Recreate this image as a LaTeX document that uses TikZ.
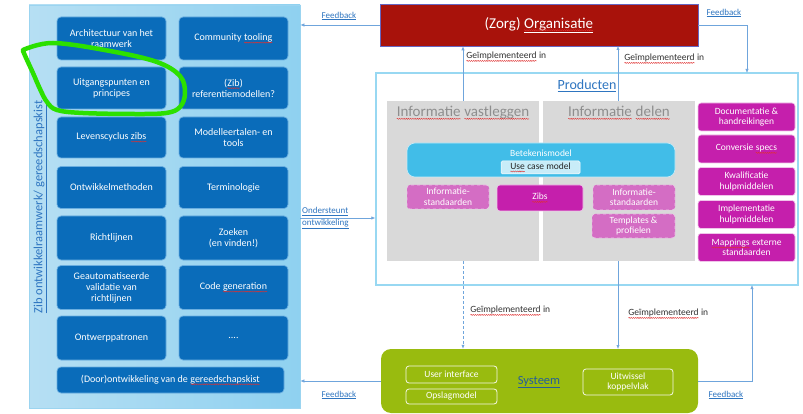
\documentclass[tikz,border=0pt]{standalone}
\usepackage{fontspec}
\setmainfont{Carlito}
\usetikzlibrary{arrows.meta,calc,decorations.pathmorphing}
\definecolor{panelL}{HTML}{B6DFF3}
\definecolor{panelR}{HTML}{8FD1F0}
\definecolor{panelB}{HTML}{9BD4F0}
\definecolor{dblue}{HTML}{0A6CBA}
\definecolor{dbord}{HTML}{6AAEE0}
\definecolor{orgred}{HTML}{A8120B}
\definecolor{prodb}{HTML}{98D8F2}
\definecolor{greyp}{HTML}{D9D9D9}
\definecolor{greyt}{HTML}{8E8E8E}
\definecolor{cyanb}{HTML}{41BDE8}
\definecolor{cyanl}{HTML}{C8ECF8}
\definecolor{magb}{HTML}{C51FAC}
\definecolor{magl}{HTML}{D46DC4}
\definecolor{magd}{HTML}{F0C4EA}
\definecolor{sysg}{HTML}{99BB0F}
\definecolor{arrc}{HTML}{6FA5DC}
\definecolor{lblue}{HTML}{2E75C0}
\definecolor{lgreen}{HTML}{2CE000}
\definecolor{spellred}{HTML}{E03030}
\newcommand\spl[1]{\tikz[baseline=(w.base)]{\node[shape=rectangle, draw=none, fill=none, minimum width=0pt, minimum height=0pt, inner sep=0pt, outer sep=0pt, anchor=base, rounded corners=0pt, solid] (w) at (0,0) {#1};\draw[spellred, line width=0.4pt, solid, rounded corners=0pt, decorate, decoration={snake, amplitude=0.55pt, segment length=2.2pt}] ([yshift=-2pt]w.base west) -- ([yshift=-2pt]w.base east);}}
\begin{document}
\begin{tikzpicture}[x=1pt,y=-1pt,
  tbox/.style={draw=dbord, line width=0.7pt, fill=dblue, rounded corners=4pt, text=white,
     align=center, font=\fontsize{10}{11}\selectfont, inner sep=1pt},
  mbox/.style={draw=magd, line width=0.6pt, fill=magb, rounded corners=3pt, text=white,
     align=center, font=\fontsize{9.5}{10.5}\selectfont, inner sep=1pt},
  dbox/.style={draw=magd, dashed, line width=0.6pt, fill=magl, rounded corners=3pt, text=white,
     align=center, font=\fontsize{9.5}{10.5}\selectfont, inner sep=1pt},
  gpanel/.style={fill=greyp, draw=none, inner sep=0pt},
  arr/.style={draw=arrc, line width=0.6pt, -{Latex[length=4pt,width=3.2pt]}},
  fb/.style={text=lblue, font=\fontsize{9}{10}\selectfont, inner sep=0pt},
  gi/.style={text=black!80, font=\fontsize{9.5}{10}\selectfont, inner sep=0pt, anchor=west},
  wbox/.style={draw=white!90!sysg, line width=0.8pt, rounded corners=3pt, text=white,
     align=center, font=\fontsize{9.5}{10.5}\selectfont, inner sep=0pt}
]
\useasboundingbox (0,0) rectangle (803,414);
\fill[white] (0,0) rectangle (803,414);

% left panel
\node[draw=panelB, line width=0.6pt, left color=panelL, right color=panelR, minimum width=271pt, minimum height=403pt, inner sep=0pt] (left) at (164.5,206.5) {};
\node[rotate=90, text=lblue, font=\fontsize{12.5}{13}\selectfont, inner sep=0pt] (lbl) at (40,207) {\underline{Zib ontwikkelraamwerk/ gereedschapskist}};

\foreach \n/\x/\y/\h/\t in {
 a1/111.5/38.5/43/{Architectuur van het\\raamwerk},
 b1/233.5/38.5/43/{Community \spl{tooling}},
 a2/111.5/88/42/{Uitgangspunten en\\principes},
 b2/233.5/88/42/{(\spl{Zib})\\referentiemodellen?},
 a3/111.5/137.5/41/{Levenscyclus \spl{zibs}},
 b3/233.5/137.5/41/{Modelleertalen- en\\tools},
 a4/111.5/187.5/42/{Ontwikkelmethoden},
 b4/233.5/187.5/42/{Terminologie},
 a5/111.5/238/44/{Richtlijnen},
 b5/233.5/238/44/{Zoeken\\(en vinden!)},
 a6/111.5/287.5/44/{Geautomatiseerde\\validatie van\\richtlijnen},
 b6/233.5/287.5/44/{Code \spl{generation}},
 a7/111.5/338/44/{Ontwerppatronen},
 b7/233.5/338/44/{....}}
 \node[tbox, minimum width=109pt, minimum height=\h pt] (\n) at (\x,\y) {\t};
\node[tbox, minimum width=227pt, minimum height=26pt] (a8) at (170.5,380) {(Door)ontwikkeling van de \spl{gereedschapskist}};

% green hand-drawn loop
\draw[lgreen, line width=4.5pt, line cap=round, line join=round]
  plot[smooth, tension=0.6] coordinates {(23,50) (53,43) (110,51) (157,62) (180,76) (185,93) (180,107) (166,113) (133,114) (83,113) (57,110) (47,102) (40,89) (33,73) (27,60) (23,51)};

% organisation
\node[draw=black!40!blue!60, line width=0.6pt, fill=orgred, text=white, minimum width=318pt, minimum height=42pt, font=\fontsize{15}{16}\selectfont, inner sep=0pt] (org) at (539,25) {(Zorg) \spl{\underline{Organisatie}}};

% producten
\node[draw=prodb, line width=1.2pt, fill=white, minimum width=422pt, minimum height=212pt, inner sep=0pt] (prod) at (587,179) {};
\node[text=lblue, font=\fontsize{14}{15}\selectfont, inner sep=0pt] (ptitle) at (587,86) {\underline{Producten}};

\node[gpanel, minimum width=152pt, minimum height=160pt] (g1) at (463,181) {};
\node[gpanel, minimum width=152pt, minimum height=160pt] (g2) at (619,181) {};
\node[text=greyt, font=\fontsize{15}{16}\selectfont, inner sep=0pt] (g1t) at (463,113) {\spl{Informatie} \spl{vastleggen}};
\node[text=greyt, font=\fontsize{15}{16}\selectfont, inner sep=0pt] (g2t) at (619,113) {\spl{Informatie} \spl{delen}};

\node[fill=cyanb, draw=white!70!cyanb, line width=0.6pt, rounded corners=8pt, minimum width=268pt, minimum height=34pt, inner sep=0pt] (bm) at (541,160) {};
\node[text=white, font=\fontsize{9.5}{10}\selectfont, inner sep=0pt] (bmt) at (541,153) {Betekenismodel};
\node[fill=cyanl, draw=white, line width=0.5pt, rounded corners=1.5pt, minimum width=79pt, minimum height=13pt, inner sep=0pt, text=black!85, font=\fontsize{9.5}{10}\selectfont] (uc) at (540.5,167.5) {\spl{Use} case model};

\node[dbox, minimum width=82pt, minimum height=24pt] (is1) at (448,197) {Informatie-\\standaarden};
\node[mbox, minimum width=86pt, minimum height=26pt] (zibs) at (540,198) {\spl{Zibs}};
\node[dbox, minimum width=82pt, minimum height=25pt] (is2) at (634,197.5) {Informatie-\\standaarden};
\node[dbox, minimum width=83pt, minimum height=24pt] (tp) at (633.5,226) {Templates \&\\profielen};

\foreach \n/\y/\t in {
 m1/117/{Documentatie \&\\handreikingen},
 m2/149/{Conversie \spl{specs}},
 m3/181.5/{Kwalificatie\\hulpmiddelen},
 m4/214.5/{Implementatie\\hulpmiddelen},
 m5/247.5/{\spl{Mappings} externe\\standaarden}}
 \node[mbox, minimum width=97pt, minimum height=28pt] (\n) at (746.5,\y) {\t};

% systeem
\node[fill=sysg, draw=none, rounded corners=10pt, minimum width=317pt, minimum height=64pt, inner sep=0pt] (sys) at (539.5,381) {};
\node[text=lblue!80!black, font=\fontsize{12.5}{13}\selectfont, inner sep=0pt] (syst) at (539,382) {\underline{Systeem}};
\node[wbox, minimum width=91pt, minimum height=17pt] (ui) at (451.5,374.5) {User interface};
\node[wbox, minimum width=91pt, minimum height=15pt] (op) at (451.5,396.5) {Opslagmodel};
\node[wbox, minimum width=90pt, minimum height=26pt] (uk) at (628,382) {Uitwissel\\koppelvlak};

% connectors
\coordinate (trc) at (747,73);
\coordinate (brc) at (752,285);
\draw[arr] (g1.north) -- (g1.north |- org.south);
\draw[arr] (618,101) -- (618,46);
\draw[arr, dash pattern=on 3pt off 2pt] (g1.south) -- (g1.south |- sys.north);
\draw[arr] (618,261) -- (618,349);
\draw[arr] (org.west) -- (org.west -| left.east);
\draw[arr] (org.east) -| (trc);
\draw[arr] (sys.east) -| (brc);
\draw[arr] (sys.west) -- (sys.west -| left.east);
\draw[arr] (left.east |- 0,218) -- (prod.west |- 0,218);

% labels
\node[gi] (gl1) at (466,57) {\spl{Geïmplementeerd} in};
\node[gi] (gl2) at (624,59) {\spl{Geïmplementeerd} in};
\node[gi] (gl3) at (470,311) {\spl{Geïmplementeerd} in};
\node[gi] (gl4) at (628,314) {\spl{Geïmplementeerd} in};
\node[fb] (f1) at (339,16) {\underline{Feedback}};
\node[fb] (f2) at (724,13) {\underline{Feedback}};
\node[fb] (f3) at (339,395) {\underline{Feedback}};
\node[fb] (f4) at (726,395) {\underline{Feedback}};
\node[fb, font=\fontsize{9}{12}\selectfont, align=left, anchor=west] (f5) at (302,218) {\underline{Ondersteunt}\\\underline{ontwikkeling}};
\end{tikzpicture}
\end{document}
